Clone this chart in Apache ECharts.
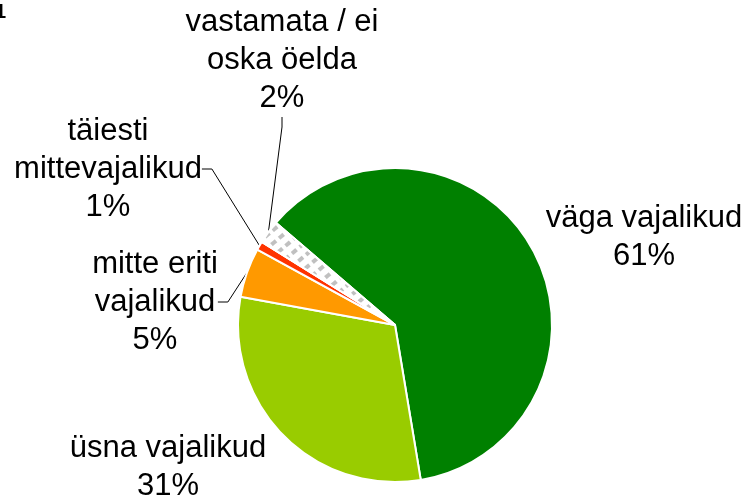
<!DOCTYPE html>
<html>
<head>
<meta charset="utf-8">
<script src="https://cdn.jsdelivr.net/npm/echarts@6/dist/echarts.min.js"></script>
<style>
  html, body { margin: 0; padding: 0; background: #fff; }
  #chart { width: 749px; height: 499px; }
</style>
</head>
<body>
<div id="chart"></div>
<script>
// slices, clockwise from the upper left edge
const categories = ['väga vajalikud', 'üsna vajalikud', 'mitte eriti\nvajalikud', 'täiesti\nmittevajalikud', 'vastamata / ei\noska öelda'];
const shares = [61.1, 30.5, 5.1, 0.9, 2.4];
const colors = ['#008000', '#99cc00', '#ff9900', '#ff3300', '#ffffff'];
// where each label block sits (centre)
const labelSpots = [[644, 237], [168, 467], [155, 302], [108, 169], [282, 60]];
const showLine = [false, false, true, true, true];

const chart = echarts.init(document.getElementById('chart'));

const data = categories.map((name, i) => {
  const item = {
    name: name,
    value: shares[i],
    itemStyle: { color: colors[i] },
    labelLine: { show: showLine[i] },
  };
  if (i === 4) {
    // hatched "no answer" slice
    item.itemStyle.decal = {
      symbol: 'rect',
      symbolSize: 1,
      color: '#c0c0c0',
      dashArrayX: [[6, 4]],
      dashArrayY: [4, 6],
      rotation: -0.7,
    };
  }
  return item;
});

chart.setOption({
  animation: false,
  graphic: [{
    type: 'text',
    x: -5,
    y: 2,
    style: {
      text: '1',
      fontFamily: 'Liberation Sans',
      fontSize: 20,
      fontWeight: 'bold',
      fill: '#000',
    },
  }],
  series: [{
    type: 'pie',
    center: [395, 325],
    radius: 157,
    startAngle: 139.4,
    clockwise: true,
    percentPrecision: 0,
    avoidLabelOverlap: false,
    itemStyle: { borderColor: '#fff', borderWidth: 2 },
    label: {
      show: true,
      position: 'outside',
      formatter: '{b}\n{d}%',
      fontFamily: 'Liberation Sans',
      fontSize: 31,
      lineHeight: 38,
      color: '#000',
      align: 'center',
    },
    labelLine: {
      show: true,
      length: 10,
      length2: 10,
      lineStyle: { color: '#000', width: 1 },
    },
    labelLayout: function (params) {
      const p = labelSpots[params.dataIndex];
      return { x: p[0], y: p[1], align: 'center', verticalAlign: 'middle' };
    },
    data: data,
  }],
});
</script>
</body>
</html>
